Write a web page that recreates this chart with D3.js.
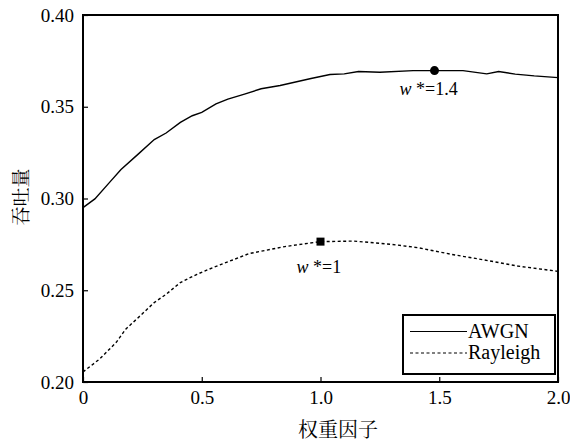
<!DOCTYPE html>
<html>
<head>
<meta charset="utf-8">
<script src="https://cdn.jsdelivr.net/npm/d3@7"></script>
<style>
  body { margin: 0; background: #fff; }
</style>
</head>
<body>
<div id="chart"></div>
<script>
// weight factor -> throughput
const awgnX = [0, 0.05, 0.11, 0.16, 0.23, 0.30, 0.35, 0.41, 0.46, 0.50, 0.56, 0.61, 0.68, 0.75, 0.83, 0.96, 1.04, 1.10, 1.16, 1.25, 1.39, 1.48, 1.60, 1.70, 1.75, 1.82, 1.90, 2.0]
const awgnY = [0.295, 0.2998, 0.3085, 0.3158, 0.3239, 0.3321, 0.3357, 0.3415, 0.3451, 0.3469, 0.3516, 0.3542, 0.3569, 0.3598, 0.3616, 0.3654, 0.3676, 0.3679, 0.3692, 0.3688, 0.3697, 0.3697, 0.3697, 0.3679, 0.3692, 0.3678, 0.3668, 0.3659]
const rayX = [0, 0.07, 0.14, 0.18, 0.24, 0.30, 0.35, 0.41, 0.48, 0.55, 0.63, 0.70, 0.85, 1.0, 1.14, 1.30, 1.41, 1.55, 1.69, 1.83, 2.0]
const rayY = [0.2055, 0.2125, 0.2216, 0.2288, 0.236, 0.2433, 0.2478, 0.2542, 0.2587, 0.2625, 0.2665, 0.2700, 0.2738, 0.2765, 0.2768, 0.2750, 0.2732, 0.2696, 0.2665, 0.2632, 0.2603]
const xTicks = [0, 0.5, 1.0, 1.5, 2.0]
const yTicks = [0.20, 0.25, 0.30, 0.35, 0.40]
const seriesNames = ['AWGN', 'Rayleigh']
const optX = [1.48, 1.0]
const optY = [0.3697, 0.2765]
const optLabels = ['=1.4', '=1']

// label placement relative to marker
const optOffset = [[-35, 24], [-24, 31]]

const serif = '"Liberation Serif", "Times New Roman", serif'
const cjk = '"Noto Serif CJK SC", "Noto Sans CJK SC", serif'

const margin = { top: 15, right: 12, bottom: 65, left: 83 }
const width = 570 - margin.left - margin.right,
  height = 447 - margin.top - margin.bottom

const svg = d3.select('#chart').append('svg')
  .attr('width', 570)
  .attr('height', 447)
  .attr('font-family', serif)

const g = svg.append('g')
  .attr('transform', 'translate(' + margin.left + ',' + margin.top + ')')

const x = d3.scaleLinear().domain([0, 2]).range([0, width])
const y = d3.scaleLinear().domain([0.2, 0.4]).range([height, 0])

const line = d3.line()
  .x(d => x(d[0]))
  .y(d => y(d[1]))

g.append('path')
  .datum(d3.zip(awgnX, awgnY))
  .attr('d', line)
  .attr('fill', 'none')
  .attr('stroke', '#000')
  .attr('stroke-width', 1.4)

g.append('path')
  .datum(d3.zip(rayX, rayY))
  .attr('d', line)
  .attr('fill', 'none')
  .attr('stroke', '#000')
  .attr('stroke-width', 1.4)
  .attr('stroke-dasharray', '3,2.5')

// axes, ticks pointing inwards
const xAxis = d3.axisBottom(x).tickValues(xTicks).tickSizeInner(-5).tickSizeOuter(0).tickPadding(9)
  .tickFormat(d => d === 0 ? '0' : d3.format('.1f')(d))
const yAxis = d3.axisLeft(y).tickValues(yTicks).tickSizeInner(-5).tickSizeOuter(0).tickPadding(9)
  .tickFormat(d3.format('.2f'))

const xg = g.append('g').attr('transform', 'translate(0,' + height + ')').call(xAxis)
const yg = g.append('g').call(yAxis)
;[xg, yg].forEach(a => {
  a.attr('font-family', serif).attr('font-size', 19)
  a.select('.domain').remove()
  a.selectAll('line').attr('stroke', '#000').attr('stroke-width', 1.2)
  a.selectAll('text').attr('fill', '#000')
})

// frame
g.append('rect')
  .attr('width', width).attr('height', height)
  .attr('fill', 'none').attr('stroke', '#000').attr('stroke-width', 2)

// optimum markers
optX.forEach((ox, i) => {
  const cx = x(ox), cy = y(optY[i])
  if (i === 0) {
    g.append('circle').attr('cx', cx).attr('cy', cy).attr('r', 4.5).attr('fill', '#000')
  } else {
    g.append('rect').attr('x', cx - 4).attr('y', cy - 4).attr('width', 8).attr('height', 8).attr('fill', '#000')
  }
  const t = g.append('text')
    .attr('x', cx + optOffset[i][0])
    .attr('y', cy + optOffset[i][1])
    .attr('font-size', 18)
  t.append('tspan').attr('font-style', 'italic').text('w')
  t.append('tspan').text(' *' + optLabels[i])
})

// legend
const lg = g.append('g').attr('transform', 'translate(' + (x(0) + 320) + ',' + (y(0.2) - 67) + ')')
lg.append('rect').attr('width', 152).attr('height', 59)
  .attr('fill', '#fff').attr('stroke', '#000').attr('stroke-width', 2)
seriesNames.forEach((name, i) => {
  const ly = 16.5 + i * 21.5
  lg.append('line').attr('x1', 7).attr('x2', 64).attr('y1', ly).attr('y2', ly)
    .attr('stroke', '#000').attr('stroke-width', 1.2)
    .attr('stroke-dasharray', i === 1 ? '3,2.5' : null)
  lg.append('text').attr('x', 65).attr('y', ly + 6).attr('font-size', 20).text(name)
})

// axis titles
svg.append('text')
  .attr('x', 338)
  .attr('y', 437)
  .attr('text-anchor', 'middle')
  .attr('font-family', cjk)
  .attr('font-size', 20)
  .text('权重因子')

svg.append('text')
  .attr('transform', 'translate(28,197) rotate(-90)')
  .attr('text-anchor', 'middle')
  .attr('font-family', cjk)
  .attr('font-size', 19)
  .text('吞吐量')
</script>
</body>
</html>
